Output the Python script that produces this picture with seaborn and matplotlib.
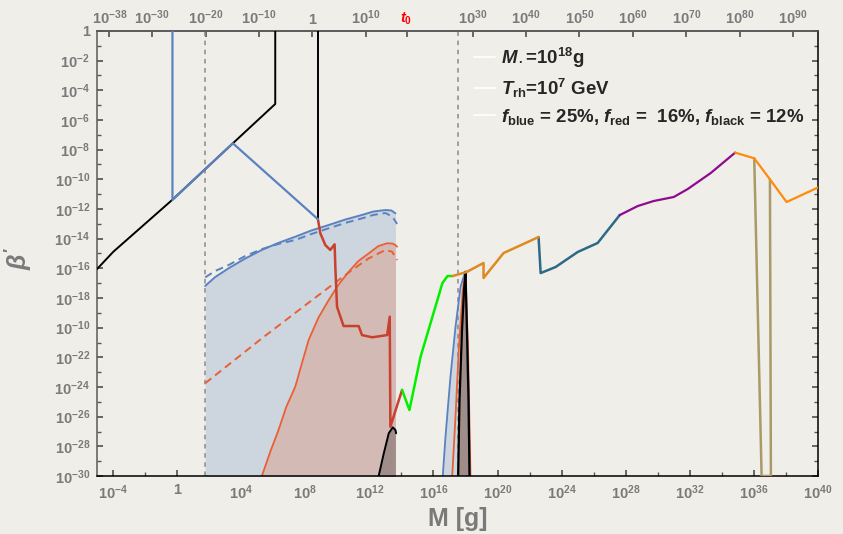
import numpy as np
import matplotlib
matplotlib.use("Agg")
import matplotlib.pyplot as plt
import seaborn as sns
from matplotlib.lines import Line2D
from matplotlib.ticker import FixedLocator, NullLocator, NullFormatter

# all values are log10(M/g) and log10(beta')
blk_lm = [-5.0, -3.98, -0.31, 3.48, 6.125, 6.125]
blk_lb = [-16.05, -14.88, -11.39, -7.57, -4.92, 0.5]
blu_lm = [-0.29, -0.29, 3.48, 8.79]
blu_lb = [0.5, -11.39, -7.57, -12.69]
blk2_lm = [8.79, 8.79]
blk2_lb = [0.5, -12.69]

red_lm = [8.79, 8.94, 9.25, 9.56, 9.83, 9.875, 9.98, 10.39, 11.33, 11.54, 12.17, 13.11, 13.27, 13.31, 14.04]
red_lb = [-12.70, -13.64, -14.43, -14.76, -14.38, -15.89, -18.59, -19.89, -19.89, -20.50, -20.65, -20.50, -19.26, -26.68, -24.20]
grn_lm = [14.04, 14.5, 15.19, 16.56, 16.875, 17.19]
grn_lb = [-24.20, -25.55, -21.98, -16.99, -16.52, -16.52]
or1_lm = [17.19, 18.06, 19.125, 19.125, 20.375, 22.56]
or1_lb = [-16.52, -16.25, -15.64, -16.65, -14.97, -13.89]
teal_lm = [22.56, 22.69, 23.625, 25.0, 26.25, 27.625]
teal_lb = [-13.89, -16.32, -15.91, -14.90, -14.29, -12.41]
pur_lm = [27.625, 28.75, 29.75, 31.0, 31.875, 33.31, 34.83]
pur_lb = [-12.41, -11.80, -11.46, -11.19, -10.65, -9.57, -8.20]
or2_lm = [34.83, 36.02, 37.0, 38.04, 40.06]
or2_lb = [-8.20, -8.58, -10.0, -11.53, -10.52]
olv_lm = [36.02, 36.48, 37.06, 37.0]
olv_lb = [-8.58, -30.0, -30.0, -10.0]

# shaded constraint curves
bsol_lm = [1.75, 2.375, 3.21, 4.25, 5.29, 6.31, 7.375, 8.375, 9.46, 10.5, 11.54, 12.25, 13.0, 13.375, 13.625]
bsol_lb = [-17.19, -16.59, -16.0, -15.34, -14.76, -14.29, -13.87, -13.45, -13.08, -12.71, -12.40, -12.17, -12.07, -12.10, -12.29]
bdash_lm = [1.75, 2.375, 3.21, 4.25, 5.29, 6.31, 7.375, 8.375, 9.46, 10.5, 11.54, 12.25, 13.0, 13.44, 13.73]
bdash_lb = [-16.61, -16.18, -15.78, -15.17, -14.70, -14.36, -14.09, -13.69, -13.30, -12.94, -12.63, -12.40, -12.27, -12.52, -13.01]
rsol_lm = [5.29, 5.81, 6.33, 6.81, 7.375, 7.81, 8.21, 8.81, 9.46, 10.06, 10.71, 11.31, 11.96, 12.56, 13.11, 13.44, 13.625, 13.73]
rsol_lb = [-30.0, -28.38, -26.90, -25.35, -23.98, -22.32, -20.83, -19.35, -18.14, -17.12, -16.23, -15.51, -14.99, -14.50, -14.31, -14.33, -14.43, -14.54]
rdash_lm = [1.75, 5.29, 8.42, 10.92, 11.96, 13.0, 13.42, 13.73]
rdash_lb = [-23.75, -20.72, -18.14, -16.11, -15.33, -14.76, -14.88, -15.44]
khump_lm = [12.58, 12.9, 13.21, 13.46, 13.625, 13.67]
khump_lb = [-30.0, -28.47, -27.12, -26.72, -26.9, -27.12]

# narrow peaks near 1e18 g
bpk_lm = [16.58, 16.75, 17.06, 17.375, 17.69, 17.96, 18.0, 18.25]
bpk_lb = [-30.0, -27.35, -23.31, -19.94, -17.24, -16.30, -16.23, -30.0]
opk_lm = [17.17, 17.375, 17.58, 17.83, 18.0, 18.16, 18.31]
opk_lb = [-30.0, -26.0, -21.5, -17.46, -16.30, -21.5, -30.0]
kpk_lm = [17.54, 17.625, 17.78, 17.91, 18.0, 18.09, 18.19, 18.25]
kpk_lb = [-30.0, -24.88, -20.16, -17.46, -16.23, -20.16, -24.88, -30.0]

vlines_lm = [1.75, 17.54]

xt_exp = list(range(-4, 41, 4))
yt_exp = list(range(0, -31, -2))
yt_lab = ["1"] + ["$10^{%d}$" % e for e in yt_exp[1:]]
yt_lab[10] = "$10^{-10}$"  # as printed on the original
top_exp = [-38, -30, -20, -10, 0, 10, 17.64, 30, 40, 50, 60, 70, 80, 90]
top_lab = ["$10^{-38}$", "$10^{-30}$", "$10^{-20}$", "$10^{-10}$", "1", "$10^{10}$", "$t_0$",
           "$10^{30}$", "$10^{40}$", "$10^{50}$", "$10^{60}$", "$10^{70}$", "$10^{80}$", "$10^{90}$"]

sns.set_theme(style="ticks")
plt.rcParams["font.family"] = ["Liberation Sans", "DejaVu Sans"]
plt.rcParams["font.weight"] = "bold"
plt.rcParams["mathtext.fontset"] = "custom"
plt.rcParams["mathtext.rm"] = "Liberation Sans:bold"
plt.rcParams["mathtext.bf"] = "Liberation Sans:bold"
plt.rcParams["mathtext.it"] = "Liberation Sans:italic:bold"

bg = "#F0EEE9"
grey = "#7A7A7A"
fig = plt.figure(figsize=(8.43, 5.34), dpi=100, facecolor=bg)
ax = fig.add_axes([97 / 843, 1 - 476 / 534, 721 / 843, 445 / 534])
ax.set_facecolor(bg)
ax.set_xscale("log")
ax.set_yscale("log")


def p(a):
    return 10 ** np.asarray(a, dtype=float)


floor = 1e-31
ax.fill_between(p(bsol_lm), p(bsol_lb), floor, color="#CDD5DE", lw=0, zorder=1)
ax.fill_between(p(rsol_lm[:-1]), p(rsol_lb[:-1]), floor, color="#D4BAB4", lw=0, zorder=1.1)
ax.fill_between(p(khump_lm[:-1]), p(khump_lb[:-1]), floor, color="#A08C89", lw=0, zorder=1.2)
ax.fill(p(bpk_lm), p(bpk_lb), color="#CDD5DE", lw=0, zorder=1)
ax.fill(p(kpk_lm), p(kpk_lb), color="#A08C89", lw=0, zorder=1.2)

for v in vlines_lm:
    ax.axvline(10 ** v, color="#8A8A8A", lw=1.1, ls=(0, (3, 3)), zorder=1.5)


def line(lm, lb, color, lw=1.4, **kw):
    sns.lineplot(x=p(lm), y=p(lb), sort=False, estimator=None, color=color,
                 lw=lw, ax=ax, legend=False, **kw)


line(blk_lm, blk_lb, "black", 1.4, zorder=3)
line(blu_lm, blu_lb, "#5B82C0", 1.6, zorder=3.2)
line(blk2_lm, blk2_lb, "black", 1.4, zorder=3)
line(bsol_lm, bsol_lb, "#5B82C0", 1.4, zorder=2)
line(bdash_lm, bdash_lb, "#5B82C0", 1.4, zorder=2, linestyle=(0, (4, 2.5)))
line(rsol_lm, rsol_lb, "#EA5F35", 1.3, zorder=2)
line(rdash_lm, rdash_lb, "#EA5F35", 1.4, zorder=2, linestyle=(0, (4, 2.5)))
line(khump_lm, khump_lb, "black", 1.4, zorder=2.5)
line(bpk_lm, bpk_lb, "#5B82C0", 1.3, zorder=2)
line(opk_lm, opk_lb, "#EA5F35", 1.3, zorder=2.1)
line(kpk_lm, kpk_lb, "black", 1.6, zorder=2.5)
line(red_lm, red_lb, "#C8402E", 1.8, zorder=3)
line(grn_lm, grn_lb, "#00F000", 1.8, zorder=3)
line(or1_lm, or1_lb, "#DE8A22", 1.8, zorder=3.1)
line(teal_lm, teal_lb, "#2D6A87", 1.8, zorder=3)
line(pur_lm, pur_lb, "#8E0A8E", 1.6, zorder=3)
line(or2_lm, or2_lb, "#FF8A0C", 1.6, zorder=3)
line(olv_lm, olv_lb, "#A99A68", 1.8, zorder=2.9)

ax.set_xlim(1e-5, 1e40)
ax.set_ylim(1e-30, 1)
ax.xaxis.set_major_locator(FixedLocator(p(xt_exp)))
ax.xaxis.set_minor_locator(FixedLocator(p(np.arange(-2, 40, 4))))
ax.xaxis.set_minor_formatter(NullFormatter())
ax.set_xticklabels(["1" if e == 0 else "$10^{%d}$" % e for e in xt_exp])
ax.yaxis.set_major_locator(FixedLocator(p(yt_exp)))
ax.yaxis.set_minor_locator(FixedLocator(p(np.arange(-29, 0, 2))))
ax.yaxis.set_minor_formatter(NullFormatter())
ax.set_yticklabels(yt_lab)
ax.tick_params(which="both", direction="in", top=False, right=True, labelsize=10.5,
               labelcolor=grey, color="#555555", pad=5)
ax.tick_params(which="major", length=4)
ax.tick_params(which="minor", length=3)
for s in ["left", "top"]:
    ax.spines[s].set_color("#5A5A5A")
for s in ["bottom", "right"]:
    ax.spines[s].set_color("black")
for s in ax.spines.values():
    s.set_linewidth(1.1)


def m2t(m):
    m = np.clip(np.asarray(m, dtype=float), 1e-300, None)
    return 10 ** (3 * np.log10(m) - 25.32)


def t2m(t):
    t = np.clip(np.asarray(t, dtype=float), 1e-300, None)
    return 10 ** ((np.log10(t) + 25.32) / 3)


sec = ax.secondary_xaxis("top", functions=(m2t, t2m))
sec.set_xscale("log")
sec.xaxis.set_major_locator(FixedLocator(p(top_exp)))
sec.xaxis.set_minor_locator(NullLocator())
sec.set_xticklabels(top_lab)
sec.tick_params(direction="in", length=4, labelsize=10.5, labelcolor=grey, color="#555555", pad=3)
sec.spines["top"].set_color("#5A5A5A")
sec.get_xticklabels()[6].set_color("red")

ax.set_xlabel("M [g]", fontsize=18, color=grey, fontweight="bold", labelpad=4)
ax.set_ylabel(r"$\beta'$", fontsize=18, color=grey)
ax.yaxis.set_label_coords(-0.088, 0.49)

handles = [Line2D([], [], color="white", lw=1.2) for _ in range(3)]
labels = [r"$M_\bullet$=10$^{18}$g", r"$T_{\rm rh}$=10$^{7}$ GeV",
          r"$f_{\rm blue}$ = 25%, $f_{\rm red}$ =  16%, $f_{\rm black}$ = 12%"]
ax.legend(handles, labels, loc="upper left", bbox_to_anchor=(0.5, 1.005), frameon=False,
          handlelength=1.1, handletextpad=0.35, labelspacing=0.38,
          prop={"size": 13.4, "weight": "bold"})

fig.savefig("out.png", dpi=100, facecolor=bg)
